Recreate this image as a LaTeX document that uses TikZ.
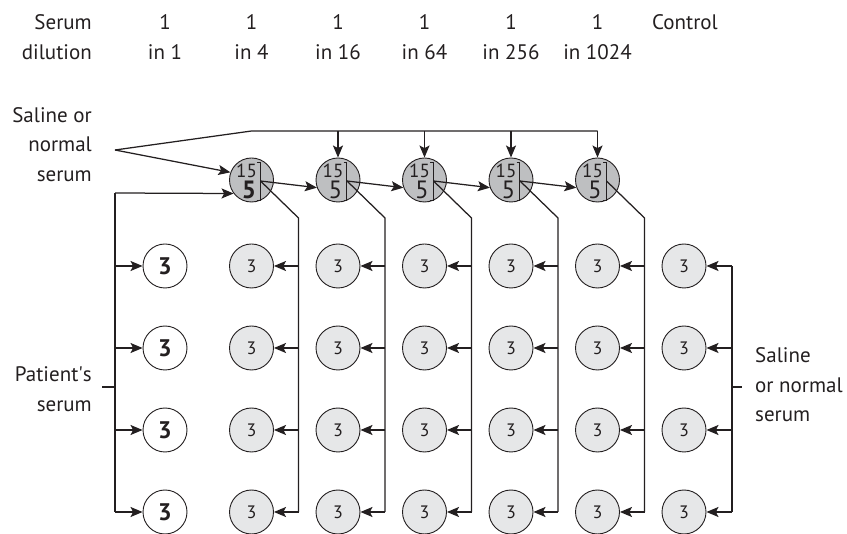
\documentclass[tikz,border=0pt]{standalone}
\usepackage{fontspec}
\setmainfont{PT Sans}
\usetikzlibrary{arrows.meta}
\definecolor{topgray}{RGB}{190,191,193}
\definecolor{wellgray}{RGB}{230,231,232}
\definecolor{ink}{RGB}{35,31,32}
\begin{document}
\begin{tikzpicture}[x=1pt,y=-1pt,
  lbl/.style={font=\fontsize{21}{30}\selectfont, inner sep=0pt, text=ink},
  well/.style={circle, draw=ink, line width=0.9pt, minimum size=44pt, inner sep=0pt, fill=wellgray, text=ink, font=\fontsize{18}{18}\selectfont},
  pwell/.style={well, fill=white, font=\fontsize{24}{24}\selectfont\bfseries},
  twell/.style={well, fill=topgray},
  upper/.style={font=\fontsize{19}{19}\selectfont, text=ink, inner sep=0pt, text height=13pt, text depth=0pt},
  lower/.style={font=\fontsize{25}{25}\selectfont, text=ink, inner sep=0pt, text height=17pt, text depth=0pt},
  conn/.style={line width=1.25pt, draw=ink},
  arr/.style={conn, -{Stealth[length=12pt,width=10pt,inset=2.5pt]}},
]
\useasboundingbox (0,0) rectangle (847,534);

% header
\node[lbl, anchor=base east] (hserum) at (92,30) {Serum};
\node[lbl, anchor=base east] (hdil) at (92,60) {dilution};
\foreach \i/\d in {0/1,1/4,2/16,3/64,4/256,5/1024} {
  \pgfmathsetmacro\cx{165+86.5*\i}
  \node[lbl, anchor=base] (hone\i) at (\cx,30) {1};
  \node[lbl, anchor=base] (hin\i) at (\cx,60) {in \d};
}
\node[lbl, anchor=base] (hctrl) at (685,30) {Control};

% side labels
\node[lbl, anchor=base east] (sl1) at (92,123) {Saline or};
\node[lbl, anchor=base east] (sl2) at (92,152) {normal};
\node[lbl, anchor=base east] (sl3) at (92,182) {serum};
\node[lbl, anchor=base east] (ps1) at (92,382) {Patient\textquotesingle s};
\node[lbl, anchor=base east] (ps2) at (92,412) {serum};
\node[lbl, anchor=base west] (sr1) at (755,363) {Saline};
\node[lbl, anchor=base west] (sr2) at (755,393) {or normal};
\node[lbl, anchor=base west] (sr3) at (755,422) {serum};

% patient's serum wells
\foreach \r/\ry in {1/266,2/348,3/430,4/512} {
  \node[pwell] (w\r0) at (165,\ry) {3};
  \coordinate (p\r) at (115,\ry);
  \draw[arr] (p\r) -- (w\r0);
}
\coordinate (ptop) at (115,193);
\coordinate (ptick) at (102,387);
\coordinate (pmid) at (115,387);
\draw[conn] (ptop) -- (p4);
\draw[conn] (ptick) -- (pmid);

% top dilution wells
\foreach \i in {1,...,5} {
  \pgfmathsetmacro\cx{165+86.5*\i}
  \node[twell] (t\i) at (\cx,180) {};
  \node[upper] (tn\i) at ([xshift=-5pt,yshift=9pt]t\i.center) {15};
  \coordinate (b\i a) at ([xshift=5.5pt,yshift=18pt]t\i.center);
  \coordinate (b\i b) at ([xshift=8.5pt,yshift=18pt]t\i.center);
  \coordinate (b\i c) at ([xshift=8.5pt,yshift=-20pt]t\i.center);
  \coordinate (b\i d) at ([xshift=5.5pt,yshift=-20pt]t\i.center);
  \draw[ink, line width=0.8pt] (b\i a) -- (b\i b) -- (b\i c) -- (b\i d);
  \coordinate (o\i) at ([xshift=9pt,yshift=-1pt]t\i.center);
  \coordinate (d\i) at ([xshift=47pt,yshift=-38pt]t\i.center);
  \foreach \r/\ry in {1/266,2/348,3/430,4/512} {
    \node[well] (w\r\i) at (\cx,\ry) {3};
    \coordinate (v\r\i) at (\cx+47,\ry);
    \draw[arr] (v\r\i) -- (w\r\i);
  }
  \draw[conn] (o\i) -- (d\i) -- (v4\i);
}
\node[lower, font=\fontsize{25}{25}\selectfont\bfseries] (tf1) at ([xshift=-2.5pt,yshift=-10.5pt]t1.center) {5};
\foreach \i in {2,...,5} {
  \node[lower] (tf\i) at ([xshift=-2.5pt,yshift=-10.5pt]t\i.center) {5};
}

% arrows between top wells
\foreach \i/\j in {1/2,2/3,3/4,4/5} {
  \draw[arr] (o\i) -- (t\j.200);
}

% saline / normal serum feed into top wells
\coordinate (s0) at (115,150);
\coordinate (s1) at (251.5,131);
\coordinate (s2) at (597.5,131);
\draw[conn] (s0) -- (s1) -- (s2);
\draw[arr] (s0) -- (t1.160);
\foreach \i in {2,...,5} {
  \draw[arr] (t\i |- s1) -- (t\i.north);
}
\draw[arr] (ptop) -- (t1.217);

% control column
\foreach \r/\ry in {1/266,2/348,3/430,4/512} {
  \node[well] (w\r6) at (684,\ry) {3};
  \coordinate (c\r) at (732,\ry);
  \draw[arr] (c\r) -- (w\r6);
}
\coordinate (cmid) at (732,387);
\coordinate (ctick) at (742,387);
\draw[conn] (c1) -- (c4);
\draw[conn] (cmid) -- (ctick);
\end{tikzpicture}
\end{document}
